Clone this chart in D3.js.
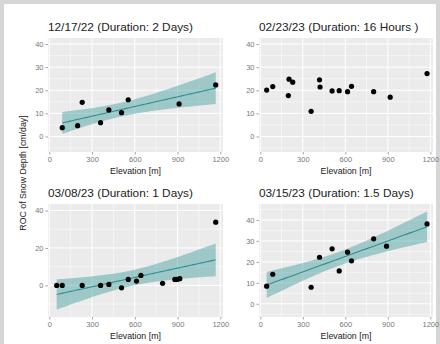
<!DOCTYPE html>
<html>
<head>
<meta charset="utf-8">
<script src="https://cdn.jsdelivr.net/npm/d3@7"></script>
<style>
  html, body { margin: 0; padding: 0; background: #fff; }
  svg { display: block; }
  text { font-family: "Liberation Sans", Arial, Helvetica, sans-serif; }
</style>
</head>
<body>
<svg id="chart" width="440" height="344"></svg>
<script>
// Snow depth rate of change vs. elevation for four storm events
const eventTitles = [
  "12/17/22 (Duration: 2 Days)",
  "02/23/23 (Duration: 16 Hours )",
  "03/08/23 (Duration: 1 Days)",
  "03/15/23 (Duration: 1.5 Days)"
];

const elev1217 = [91, 199, 231, 360, 418, 507, 554, 911, 1168];
const roc1217  = [3.8, 4.7, 14.8, 6.0, 11.5, 10.3, 15.9, 14.1, 22.3];

const elev0223 = [45, 88, 198, 203, 229, 359, 418, 422, 507, 557, 616, 644, 800, 917, 1177];
const roc0223  = [20.1, 21.6, 17.7, 24.8, 23.5, 10.9, 24.5, 21.4, 19.7, 19.8, 19.4, 21.7, 19.4, 17.0, 27.2];

const elev0308 = [52, 91, 231, 360, 418, 507, 554, 612, 643, 795, 881, 897, 916, 1168];
const roc0308  = [0, 0, 0, 0, 0.5, -1.3, 3.2, 2.3, 5.3, 1.1, 3.2, 3.2, 3.6, 33.8];

const elev0315 = [45, 88, 359, 418, 507, 557, 616, 644, 800, 891, 1177];
const roc0315  = [8.4, 14.1, 7.9, 22.2, 26.2, 15.7, 24.6, 20.5, 31.0, 27.5, 38.1];

const xTicks = [0, 300, 600, 900, 1200];
const yTicks1217 = [0, 10, 20, 30, 40];
const yTicks0223 = [0, 10, 20, 30, 40];
const yTicks0308 = [0, 20, 40];
const yTicks0315 = [0, 10, 20, 30, 40];

const xLabel = "Elevation [m]";
const yLabel = "ROC of Snow Depth [cm/day]";

// two-sided 95% Student t quantiles, df = 1..30
const t975 = [12.706, 4.303, 3.182, 2.776, 2.571, 2.447, 2.365, 2.306, 2.262, 2.228,
  2.201, 2.179, 2.160, 2.145, 2.131, 2.120, 2.110, 2.101, 2.093, 2.086,
  2.080, 2.074, 2.069, 2.064, 2.060, 2.056, 2.052, 2.048, 2.045, 2.042];

const panels = [
  { title: eventTitles[0], xs: elev1217, ys: roc1217, yTicks: yTicks1217, yDomain: [-6.7, 42.6], fit: true,
    box: { x0: 48, x1: 223, y0: 38, y1: 152 } },
  { title: eventTitles[1], xs: elev0223, ys: roc0223, yTicks: yTicks0223, yDomain: [-6.7, 42.6], fit: false,
    box: { x0: 259, x1: 433, y0: 38, y1: 152 } },
  { title: eventTitles[2], xs: elev0308, ys: roc0308, yTicks: yTicks0308, yDomain: [-16.9, 43.5], fit: true,
    box: { x0: 48, x1: 223, y0: 204, y1: 317 } },
  { title: eventTitles[3], xs: elev0315, ys: roc0315, yTicks: yTicks0315, yDomain: [-6.3, 47.6], fit: true,
    box: { x0: 259, x1: 433, y0: 204, y1: 317 } }
];

const svg = d3.select("#chart");

// outer frame
svg.append("rect").attr("x", 2).attr("y", 2).attr("width", 436).attr("height", 344)
  .attr("fill", "none").attr("stroke", "#d6d6d6").attr("stroke-width", 4);

// linear model with 95% confidence band (as geom_smooth(method = "lm"))
function lmBand(xs, ys) {
  const n = xs.length;
  const mx = d3.mean(xs), my = d3.mean(ys);
  let sxx = 0, sxy = 0;
  for (let i = 0; i < n; i++) { sxx += (xs[i] - mx) ** 2; sxy += (xs[i] - mx) * (ys[i] - my); }
  const b = sxy / sxx, a = my - b * mx;
  let sse = 0;
  for (let i = 0; i < n; i++) sse += (ys[i] - a - b * xs[i]) ** 2;
  const s = Math.sqrt(sse / (n - 2));
  const t = t975[Math.min(n - 2, 30) - 1];
  const [lo, hi] = d3.extent(xs);
  return d3.range(80).map(i => {
    const x = lo + (hi - lo) * i / 79;
    const yh = a + b * x;
    const se = s * Math.sqrt(1 / n + (x - mx) ** 2 / sxx);
    return { x, y: yh, ymin: yh - t * se, ymax: yh + t * se };
  });
}

panels.forEach(p => {
  const { x0, x1, y0, y1 } = p.box;
  const x = d3.scaleLinear().domain([-9, 1219]).range([x0, x1]);
  const y = d3.scaleLinear().domain(p.yDomain).range([y1, y0]);
  const g = svg.append("g");

  g.append("rect").attr("x", x0).attr("y", y0).attr("width", x1 - x0).attr("height", y1 - y0)
    .attr("fill", "#ebebeb");

  // minor grid
  const xMinor = xTicks.slice(0, -1).map((v, i) => (v + xTicks[i + 1]) / 2)
    .filter(v => v > x.domain()[0] && v < x.domain()[1]);
  const step = p.yTicks[1] - p.yTicks[0];
  const yMinor = d3.range(p.yTicks[0] - step / 2, p.yDomain[1], step)
    .filter(v => v > p.yDomain[0] && v < p.yDomain[1]);
  g.selectAll(null).data(xMinor).enter().append("line")
    .attr("x1", d => x(d)).attr("x2", d => x(d)).attr("y1", y0).attr("y2", y1)
    .attr("stroke", "#fff").attr("stroke-width", 0.5);
  g.selectAll(null).data(yMinor).enter().append("line")
    .attr("y1", d => y(d)).attr("y2", d => y(d)).attr("x1", x0).attr("x2", x1)
    .attr("stroke", "#fff").attr("stroke-width", 0.5);
  // major grid
  g.selectAll(null).data(xTicks).enter().append("line")
    .attr("x1", d => x(d)).attr("x2", d => x(d)).attr("y1", y0).attr("y2", y1)
    .attr("stroke", "#fff").attr("stroke-width", 1);
  g.selectAll(null).data(p.yTicks).enter().append("line")
    .attr("y1", d => y(d)).attr("y2", d => y(d)).attr("x1", x0).attr("x2", x1)
    .attr("stroke", "#fff").attr("stroke-width", 1);

  // axes
  const xAxis = d3.axisBottom(x).tickValues(xTicks).tickSize(2.5).tickPadding(2).tickFormat(d3.format("d"));
  const yAxis = d3.axisLeft(y).tickValues(p.yTicks).tickSize(2.5).tickPadding(2).tickFormat(d3.format("d"));
  const gx = g.append("g").attr("transform", `translate(0,${y1})`).call(xAxis);
  const gy = g.append("g").attr("transform", `translate(${x0},0)`).call(yAxis);
  [gx, gy].forEach(ax => {
    ax.select(".domain").remove();
    ax.selectAll(".tick line").attr("stroke", "#666").attr("stroke-width", 0.6);
    ax.selectAll(".tick text").attr("fill", "#777").attr("font-size", 7.5)
      .attr("font-family", '"Liberation Sans", Arial, sans-serif');
  });

  // smoother band and line
  if (p.fit) {
    const band = lmBand(p.xs, p.ys);
    g.append("path").datum(band)
      .attr("d", d3.area().x(d => x(d.x)).y0(d => y(d.ymin)).y1(d => y(d.ymax)))
      .attr("fill", "#2a9090").attr("fill-opacity", 0.4);
    g.append("path").datum(band)
      .attr("d", d3.line().x(d => x(d.x)).y(d => y(d.y)))
      .attr("fill", "none").attr("stroke", "#2f8f8f").attr("stroke-width", 1.1);
  }

  // observations
  g.selectAll(null).data(p.xs.map((v, i) => [v, p.ys[i]])).enter().append("circle")
    .attr("cx", d => x(d[0])).attr("cy", d => y(d[1])).attr("r", 2.6).attr("fill", "#000");

  // titles
  g.append("text").attr("x", x0).attr("y", y0 - 7).attr("font-size", 11.8).attr("fill", "#222")
    .text(p.title);
  g.append("text").attr("x", (x0 + x1) / 2).attr("y", y1 + 22).attr("text-anchor", "middle")
    .attr("font-size", 8.8).attr("fill", "#222").text(xLabel);
});

svg.append("text").attr("transform", "translate(26,173) rotate(-90)").attr("text-anchor", "middle")
  .attr("font-size", 8.8).attr("fill", "#222").text(yLabel);
</script>
</body>
</html>
